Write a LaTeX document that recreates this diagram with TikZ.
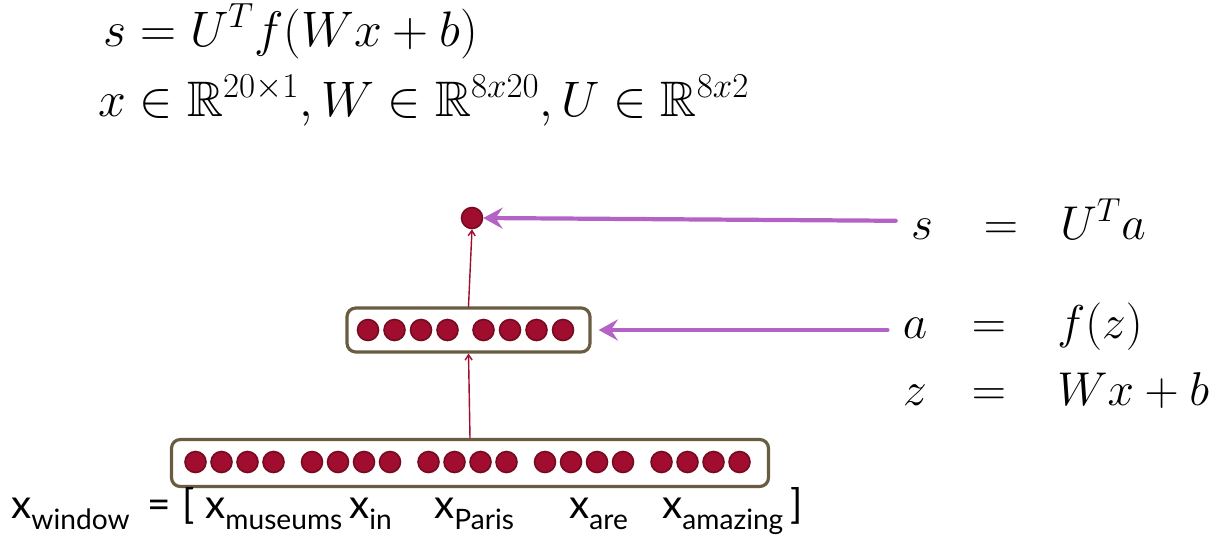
\RequirePackage{fix-cm}
\documentclass[tikz,border=0pt]{standalone}
\usepackage{amsmath,amssymb}
\usepackage{fontspec}
\newfontfamily\wordfont{Lato}
\usepackage{tikz}
\usetikzlibrary{arrows.meta,calc}
\definecolor{unitred}{HTML}{A00D2E}
\definecolor{unitdark}{HTML}{760A1F}
\definecolor{boxbrown}{HTML}{6A5C40}
\definecolor{callpurple}{HTML}{B562C6}
\newcommand{\wvec}[1]{x\raisebox{-6.5pt}{\fontsize{16}{18}\selectfont #1}}

\begin{document}
\begin{tikzpicture}[>=Stealth,line cap=round,line join=round,
  font=\fontsize{27}{32}\selectfont,
  unit/.style={circle,inner sep=0pt,minimum size=0.42cm,fill=unitred,draw=unitdark,line width=0.9pt},
  vecbox/.style={draw=boxbrown,line width=1.8pt,rounded corners=5pt,fill=white},
  feed/.style={->,unitred,line width=0.8pt,>={Straight Barb[length=3pt,width=4pt]}},
  callout/.style={->,callpurple,line width=2.4pt,>={Stealth[length=11pt,width=12pt,inset=4pt]}},
  eq/.style={inner sep=0pt,anchor=base},
  word/.style={inner sep=0pt,anchor=base west,font=\wordfont\fontsize{23}{27}\selectfont}]
\path[use as bounding box] (0,0) rectangle (24.56,11.16);
\fill[white] (0,0) rectangle (24.56,11.16);
% model equations
\node[eq,anchor=base west,font=\fontsize{28.4}{34}\selectfont] (frm1) at (2.06,10.24) {$s = U^T f(Wx+b)$};
\node[eq,anchor=base west,font=\fontsize{28.4}{34}\selectfont] (frm2) at (1.96,8.84) {$x \in \mathbb{R}^{20\times 1}, W \in \mathbb{R}^{8x20}, U \in \mathbb{R}^{8x2}$};
% window vector and hidden layer
\node[vecbox,minimum width=11.94cm,minimum height=0.94cm] (xbox) at (9.4,1.9) {};
\node[vecbox,minimum width=4.86cm,minimum height=0.88cm] (hbox) at (9.37,4.56) {};
\foreach \g in {0,...,4}{
  \foreach \i in {1,...,4}{
    \pgfmathtruncatemacro\k{4*\g+\i}
    \node[unit] (x\k) at ({3.91+2.33*\g+0.52*(\i-1)},1.92) {};
  }
}
\foreach \g in {0,1}{
  \foreach \i in {1,...,4}{
    \pgfmathtruncatemacro\k{4*\g+\i}
    \node[unit] (h\k) at ({7.36+2.31*\g+0.53*(\i-1)},4.56) {};
  }
}
\node[unit] (sdot) at (9.44,6.8) {};
\draw[feed] (xbox.north) -- (hbox.south);
\draw[feed] (hbox.north) -- (sdot.south);
% layer equations
\node[eq] (slbl) at (18.44,6.38) {$s$};
\node[eq] (seq) at (20.02,6.38) {$=$};
\node[eq,anchor=base west] (srhs) at (21.2,6.38) {$U^Ta$};
\node[eq] (albl) at (18.3,4.4) {$a$};
\node[eq] (aeq) at (19.78,4.4) {$=$};
\node[eq,anchor=base west] (arhs) at (21.14,4.4) {$f(z)$};
\node[eq] (zlbl) at (18.3,3.06) {$z$};
\node[eq] (zeq) at (19.78,3.06) {$=$};
\node[eq,anchor=base west] (zrhs) at (21.14,3.06) {$Wx+b$};
\draw[callout] ([xshift=-0.3cm,yshift=0.16cm]slbl.west) -- (sdot.east);
\draw[callout,shorten >=4pt] ([xshift=-0.3cm]albl.west |- hbox.east) -- (hbox.east);
% window words
\node[word] (wwin) at (0.22,0.8) {\wvec{window}};
\node[word] (weq) at (2.94,0.8) {=};
\node[word] (wbra) at (3.64,0.8) {[};
\node[word] (wmus) at (4.1,0.8) {\wvec{museums}};
\node[word] (win) at (6.98,0.8) {\wvec{in}};
\node[word] (wpar) at (8.68,0.8) {\wvec{Paris}};
\node[word] (ware) at (11.38,0.8) {\wvec{are}};
\node[word] (wama) at (13.24,0.8) {\wvec{amazing}};
\node[word] (wket) at (15.8,0.8) {]};
\end{tikzpicture}
\end{document}
